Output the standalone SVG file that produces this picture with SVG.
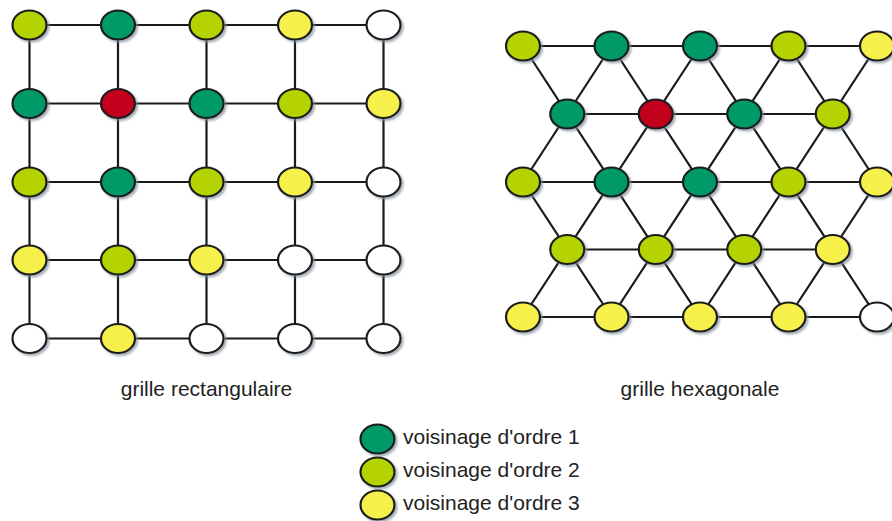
<svg xmlns="http://www.w3.org/2000/svg" width="892" height="521" viewBox="0 0 892 521">
<defs>
<filter id="sh" x="-30%" y="-30%" width="170%" height="170%">
<feDropShadow dx="2" dy="2" stdDeviation="0.8" flood-color="#7f8c99" flood-opacity="0.7"/>
</filter>
</defs>
<style>
.e{stroke:#1a1a1a;stroke-width:2.2;filter:url(#sh)}
.g{fill:#009a68}
.l{fill:#b4d300}
.y{fill:#f6f04c}
.w{fill:#ffffff}
.r{fill:#c3001f}
.c{stroke:#1a1a1a;stroke-width:2.2;fill:none}
text{font-family:"Liberation Sans",Arial,sans-serif;font-size:21px;fill:#222}
</style>
<rect width="892" height="521" fill="#fff"/>
<g id="connectors">
<path class="c" d="M29.5 25H383.5M29.5 103.5H383.5M29.5 182H383.5M29.5 260H383.5M29.5 338.5H383.5M29.5 25V338.5M118 25V338.5M206.5 25V338.5M295 25V338.5M383.5 25V338.5"/>
<path class="c" d="M523 46H877M567.25 114H832.75M523 182H877M567.25 249.5H832.75M523 317H877M523 46L700 317M611.5 46L788.5 317M700 46L877 317M788.5 46L877 182M523 182L611.5 317M877 46L700 317M788.5 46L611.5 317M700 46L523 317M611.5 46L523 182M877 182L788.5 317"/>
</g>
<g id="rect-grid">
<g id="r1c1"><ellipse class="e l" cx="29.5" cy="25" rx="17" ry="14.5"/></g>
<g id="r1c2"><ellipse class="e g" cx="118" cy="25" rx="17" ry="14.5"/></g>
<g id="r1c3"><ellipse class="e l" cx="206.5" cy="25" rx="17" ry="14.5"/></g>
<g id="r1c4"><ellipse class="e y" cx="295" cy="25" rx="17" ry="14.5"/></g>
<g id="r1c5"><ellipse class="e w" cx="383.5" cy="25" rx="17" ry="14.5"/></g>
<g id="r2c1"><ellipse class="e g" cx="29.5" cy="103.5" rx="17" ry="14.5"/></g>
<g id="r2c2"><ellipse class="e r" cx="118" cy="103.5" rx="17" ry="14.5"/></g>
<g id="r2c3"><ellipse class="e g" cx="206.5" cy="103.5" rx="17" ry="14.5"/></g>
<g id="r2c4"><ellipse class="e l" cx="295" cy="103.5" rx="17" ry="14.5"/></g>
<g id="r2c5"><ellipse class="e y" cx="383.5" cy="103.5" rx="17" ry="14.5"/></g>
<g id="r3c1"><ellipse class="e l" cx="29.5" cy="182" rx="17" ry="14.5"/></g>
<g id="r3c2"><ellipse class="e g" cx="118" cy="182" rx="17" ry="14.5"/></g>
<g id="r3c3"><ellipse class="e l" cx="206.5" cy="182" rx="17" ry="14.5"/></g>
<g id="r3c4"><ellipse class="e y" cx="295" cy="182" rx="17" ry="14.5"/></g>
<g id="r3c5"><ellipse class="e w" cx="383.5" cy="182" rx="17" ry="14.5"/></g>
<g id="r4c1"><ellipse class="e y" cx="29.5" cy="260" rx="17" ry="14.5"/></g>
<g id="r4c2"><ellipse class="e l" cx="118" cy="260" rx="17" ry="14.5"/></g>
<g id="r4c3"><ellipse class="e y" cx="206.5" cy="260" rx="17" ry="14.5"/></g>
<g id="r4c4"><ellipse class="e w" cx="295" cy="260" rx="17" ry="14.5"/></g>
<g id="r4c5"><ellipse class="e w" cx="383.5" cy="260" rx="17" ry="14.5"/></g>
<g id="r5c1"><ellipse class="e w" cx="29.5" cy="338.5" rx="17" ry="14.5"/></g>
<g id="r5c2"><ellipse class="e y" cx="118" cy="338.5" rx="17" ry="14.5"/></g>
<g id="r5c3"><ellipse class="e w" cx="206.5" cy="338.5" rx="17" ry="14.5"/></g>
<g id="r5c4"><ellipse class="e w" cx="295" cy="338.5" rx="17" ry="14.5"/></g>
<g id="r5c5"><ellipse class="e w" cx="383.5" cy="338.5" rx="17" ry="14.5"/></g>
</g>
<g id="hex-grid">
<g id="h1c1"><ellipse class="e l" cx="523" cy="46" rx="17" ry="14.5"/></g>
<g id="h1c2"><ellipse class="e g" cx="611.5" cy="46" rx="17" ry="14.5"/></g>
<g id="h1c3"><ellipse class="e g" cx="700" cy="46" rx="17" ry="14.5"/></g>
<g id="h1c4"><ellipse class="e l" cx="788.5" cy="46" rx="17" ry="14.5"/></g>
<g id="h1c5"><ellipse class="e y" cx="877" cy="46" rx="17" ry="14.5"/></g>
<g id="h2c1"><ellipse class="e g" cx="567.25" cy="114" rx="17" ry="14.5"/></g>
<g id="h2c2"><ellipse class="e r" cx="655.75" cy="114" rx="17" ry="14.5"/></g>
<g id="h2c3"><ellipse class="e g" cx="744.25" cy="114" rx="17" ry="14.5"/></g>
<g id="h2c4"><ellipse class="e l" cx="832.75" cy="114" rx="17" ry="14.5"/></g>
<g id="h3c1"><ellipse class="e l" cx="523" cy="182" rx="17" ry="14.5"/></g>
<g id="h3c2"><ellipse class="e g" cx="611.5" cy="182" rx="17" ry="14.5"/></g>
<g id="h3c3"><ellipse class="e g" cx="700" cy="182" rx="17" ry="14.5"/></g>
<g id="h3c4"><ellipse class="e l" cx="788.5" cy="182" rx="17" ry="14.5"/></g>
<g id="h3c5"><ellipse class="e y" cx="877" cy="182" rx="17" ry="14.5"/></g>
<g id="h4c1"><ellipse class="e l" cx="567.25" cy="249.5" rx="17" ry="14.5"/></g>
<g id="h4c2"><ellipse class="e l" cx="655.75" cy="249.5" rx="17" ry="14.5"/></g>
<g id="h4c3"><ellipse class="e l" cx="744.25" cy="249.5" rx="17" ry="14.5"/></g>
<g id="h4c4"><ellipse class="e y" cx="832.75" cy="249.5" rx="17" ry="14.5"/></g>
<g id="h5c1"><ellipse class="e y" cx="523" cy="317" rx="17" ry="14.5"/></g>
<g id="h5c2"><ellipse class="e y" cx="611.5" cy="317" rx="17" ry="14.5"/></g>
<g id="h5c3"><ellipse class="e y" cx="700" cy="317" rx="17" ry="14.5"/></g>
<g id="h5c4"><ellipse class="e y" cx="788.5" cy="317" rx="17" ry="14.5"/></g>
<g id="h5c5"><ellipse class="e w" cx="877" cy="317" rx="17" ry="14.5"/></g>
</g>
<g id="labels">
<text x="206.5" y="396" text-anchor="middle">grille rectangulaire</text>
<text x="700" y="396" text-anchor="middle">grille hexagonale</text>
</g>
<g id="legend">
<g id="leg1"><ellipse class="e g" cx="377.5" cy="439" rx="17" ry="14.5"/><text x="403" y="444">voisinage d'ordre 1</text></g>
<g id="leg2"><ellipse class="e l" cx="377.5" cy="472" rx="17" ry="14.5"/><text x="403" y="477">voisinage d'ordre 2</text></g>
<g id="leg3"><ellipse class="e y" cx="377.5" cy="505" rx="17" ry="14.5"/><text x="403" y="510">voisinage d'ordre 3</text></g>
</g>
</svg>
